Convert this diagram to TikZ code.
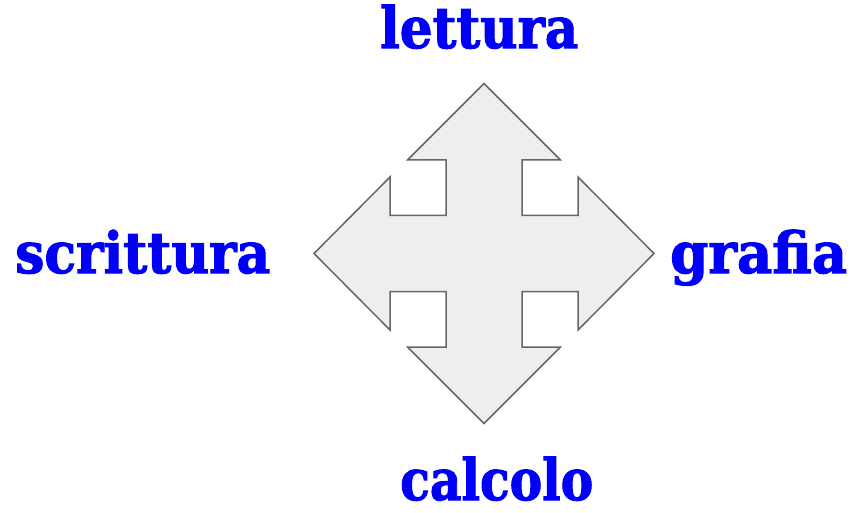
\documentclass[tikz,border=0pt]{standalone}
\usepackage{fontspec}
\setmainfont{DejaVu Serif}
\newfontfamily\slabfont{DejaVu Serif Condensed}[FakeBold=1.8]
\usetikzlibrary{calc}
\definecolor{lblblue}{RGB}{0,0,250}
\definecolor{arrfill}{RGB}{238,238,238}
\definecolor{arrline}{RGB}{102,102,102}
\tikzset{
  word/.style={inner sep=0pt, text=lblblue, font=\slabfont\fontsize{57}{60}\selectfont\bfseries},
  crossarrow/.style={fill=arrfill, draw=arrline, line width=1.5pt, line join=miter}
}
\newcommand{\fitword}[2]{\resizebox{#1}{\height}{#2}}
\begin{document}
\begin{tikzpicture}[x=1pt,y=-1pt]
\useasboundingbox (0,0) rectangle (851,513);
\coordinate (c) at (484,253.5);
\draw[crossarrow, shift={(c)}]
  (0,-170) -- (76.5,-93.5) -- (38,-93.5) -- (38,-38) -- (94,-38) -- (94,-76.5)
  -- (170,0) -- (94,76.5) -- (94,38) -- (38,38) -- (38,93.5) -- (76.5,93.5)
  -- (0,170) -- (-76.5,93.5) -- (-38,93.5) -- (-38,38) -- (-94,38) -- (-94,76.5)
  -- (-170,0) -- (-94,-76.5) -- (-94,-38) -- (-38,-38) -- (-38,-93.5) -- (-76.5,-93.5)
  -- cycle;
\node[word, anchor=base west] (lettura) at (380,48) {\fitword{198pt}{lettura}};
\node[word, anchor=base west] (scrittura) at (15,273) {\fitword{255pt}{scrittura}};
\node[word, anchor=base west] (grafia) at (670,273) {\fitword{177pt}{grafia}};
\node[word, anchor=base west] (calcolo) at (400,500) {\fitword{193pt}{calcolo}};
\end{tikzpicture}
\end{document}
